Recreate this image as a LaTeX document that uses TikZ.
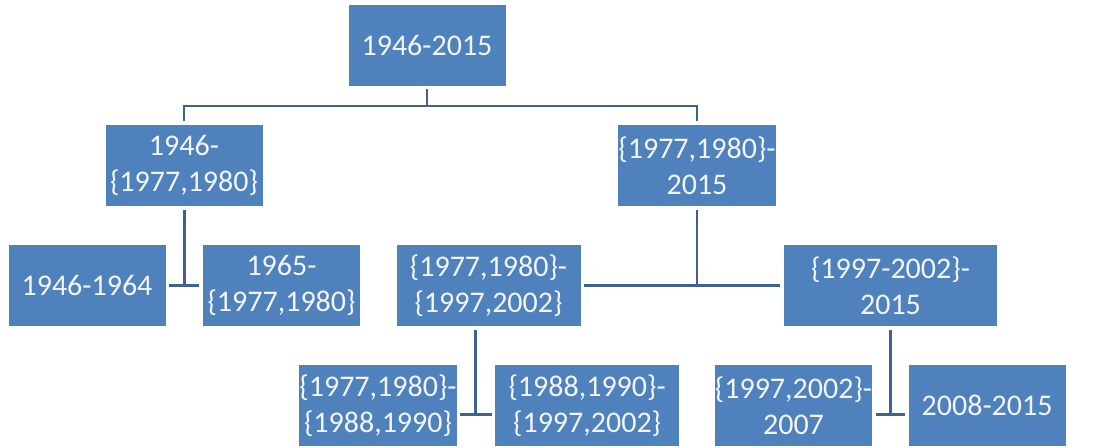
\documentclass[tikz,border=0pt]{standalone}
\usepackage{fontspec}
\setmainfont{Carlito}
\usepackage{xcolor}
\usepackage{tikz}
\usetikzlibrary{positioning, calc}

\definecolor{boxblue}{HTML}{4F81BD}
\definecolor{linkblue}{HTML}{3F6294}
\definecolor{boxtext}{HTML}{F2F5FA}

\begin{document}
\begin{tikzpicture}[
  x=0.75pt, y=-0.75pt,
  period/.style={rectangle, fill=boxblue, text=boxtext, align=center,
    minimum width=117.75pt, minimum height=60.75pt, inner sep=0pt,
    font=\fontsize{22.5}{27}\selectfont},
  wideperiod/.style={period, minimum width=138pt},
  widestperiod/.style={period, minimum width=159.75pt},
  link/.style={draw=linkblue, line width=2.2pt},
  gap/.style={shorten <=2.5pt, shorten >=2.5pt},
]
\useasboundingbox (0,0) rectangle (1096,447);
% ====== LEVEL 0 ======
\node[period] (t_all) at (427,45) {1946-2015};
%
% ====== LEVEL 1 ======
\node[period] (a_early) at (184,165.5) {1946-\\\{1977,1980\}};
\node[period] (a_late) at (697,165.5) {\{1977,1980\}-\\2015};
\coordinate (t_bus) at (427,106);
\draw[link, shorten <=2.5pt] (t_all.south) -- (t_bus);
\draw[link, gap] (a_early.north) |- (t_bus) -| (a_late.north);
%
% ====== LEVEL 2 ======
\node[period] (b_1946) at (87,285.5) {1946-1964};
\node[period, right=27.75pt of b_1946] (b_1965) {1965-\\\{1977,1980\}};
\node[wideperiod] (b_1977) at (488.5,285.5) {\{1977,1980\}-\\\{1997,2002\}};
\node[widestperiod] (b_1997) at (890.5,285.5) {\{1997-2002\}-\\2015};
% early split
\coordinate (a_split) at ($(b_1946.east)!0.5!(b_1965.west)$);
\draw[link, gap] (b_1946.east) -- (b_1965.west);
\draw[link, shorten <=2.5pt] (a_split |- a_early.south) -- (a_split);
% late split
\draw[link, gap] (b_1977.east) -- (b_1997.west);
\draw[link, shorten <=2.5pt] (a_late.south) -- (a_late.south |- b_1977.east);
%
% ====== LEVEL 3 ======
\node[period] (c_1977) at (378,405.5) {\{1977,1980\}-\\\{1988,1990\}};
\node[wideperiod, right=28.5pt of c_1977] (c_1988) {\{1988,1990\}-\\\{1997,2002\}};
\node[period] (c_1997) at (793.5,405.5) {\{1997,2002\}-\\2007};
\node[period, right=27pt of c_1997] (c_2008) {2008-2015};
% split of {1977,1980}-{1997,2002}
\coordinate (b_split1) at ($([yshift=-6.4pt]c_1977.east)!0.5!([yshift=-6.4pt]c_1988.west)$);
\draw[link, gap] ([yshift=-6.4pt]c_1977.east) -- ([yshift=-6.4pt]c_1988.west);
\draw[link, shorten <=2.5pt] (b_split1 |- b_1977.south) -- (b_split1);
% split of {1997-2002}-2015
\coordinate (b_split2) at ($([yshift=-6.4pt]c_1997.east)!0.5!([yshift=-6.4pt]c_2008.west)$);
\draw[link, gap] ([yshift=-6.4pt]c_1997.east) -- ([yshift=-6.4pt]c_2008.west);
\draw[link, shorten <=2.5pt] (b_split2 |- b_1997.south) -- (b_split2);
\end{tikzpicture}
\end{document}
